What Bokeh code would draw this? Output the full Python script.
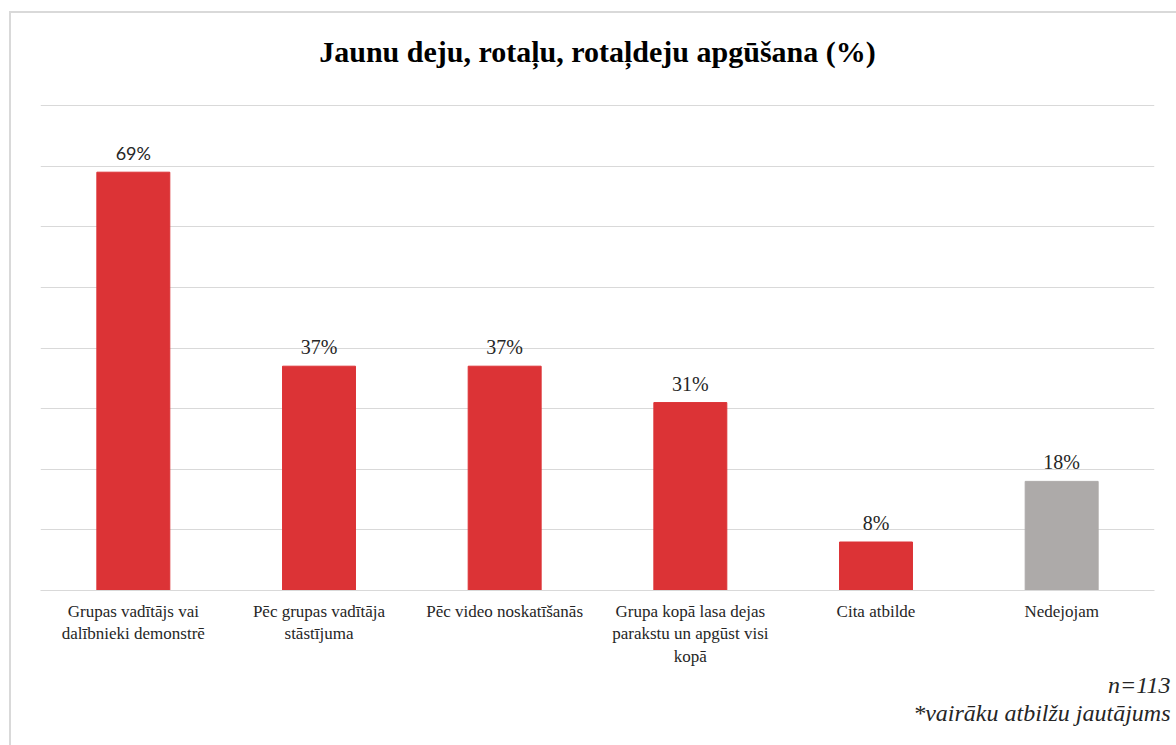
from bokeh.plotting import figure
from bokeh.models import ColumnDataSource, LabelSet, Title, FixedTicker, InlineStyleSheet
from bokeh.embed import file_html
from bokeh.resources import INLINE

categories = [
    "Grupas vadītājs vai\ndalībnieki demonstrē",
    "Pēc grupas vadītāja\nstāstījuma",
    "Pēc video noskatīšanās",
    "Grupa kopā lasa dejas\nparakstu un apgūst visi\nkopā",
    "Cita atbilde",
    "Nedejojam",
]
values = [69, 37, 37, 31, 8, 18]
value_labels = ["69%", "37%", "37%", "31%", "8%", "18%"]
grid_ticks = [10, 20, 30, 40, 50, 60, 70, 80]

SERIF = "'Liberation Serif', 'Times New Roman', serif"
RED = "#DC3336"
GRAY = "#ADAAA9"
colors = [RED, RED, RED, RED, RED, GRAY]
label_fonts = ["Lato", SERIF, SERIF, SERIF, SERIF, SERIF]
label_sizes = ["18px", "20px", "20px", "20px", "20px", "20px"]

src = ColumnDataSource(dict(cat=categories, val=values, lab=value_labels,
                            color=colors, font=label_fonts, size=label_sizes))

border_css = InlineStyleSheet(css="""
:host { position: relative; }
:host::after {
  content: "";
  position: absolute;
  left: 9px; top: 11px;
  width: 1170px; height: 740px;
  border-left: 2px solid #D9D9D9;
  border-top: 2px solid #D9D9D9;
  pointer-events: none;
  box-sizing: border-box;
}
""")

p = figure(x_range=categories, y_range=(0, 80.33), width=1176, height=745,
           output_backend="svg", toolbar_location=None,
           min_border_left=40, min_border_right=22,
           min_border_top=103, min_border_bottom=155)
p.stylesheets = [border_css]

p.vbar(x="cat", top="val", width=0.393, color="color", source=src)

labels = LabelSet(x="cat", y="val", text="lab", source=src, y_offset=12,
                  text_align="center", text_baseline="alphabetic",
                  text_font="font", text_font_size="size", text_color="#262626")
p.add_layout(labels)

p.yaxis.visible = False
p.ygrid.ticker = FixedTicker(ticks=grid_ticks)
p.ygrid.grid_line_color = "#D9D9D9"
p.ygrid.grid_line_width = 1
p.xgrid.grid_line_color = None
p.outline_line_color = None

p.xaxis.axis_line_color = "#D9D9D9"
p.xaxis.axis_line_width = 1
p.xaxis.major_tick_line_color = None
p.xaxis.minor_tick_line_color = None
p.xaxis.major_label_text_font = SERIF
p.xaxis.major_label_text_font_size = "17px"
p.xaxis.major_label_text_color = "#262626"
p.xaxis.major_label_standoff = 5

p.title.text = "Jaunu deju, rotaļu, rotaļdeju apgūšana (%)"
p.title.align = "center"
p.title.vertical_align = "top"
p.title.text_font = SERIF
p.title.text_font_size = "30px"
p.title.text_font_style = "bold"
p.title.text_color = "#000000"
p.title.standoff = 67

note1 = Title(text="n=113", align="right", offset=-16, standoff=0,
              text_font=SERIF, text_font_size="24px",
              text_font_style="italic", text_color="#262626")
note2 = Title(text="*vairāku atbilžu jautājums", align="right", offset=-16, standoff=0,
              text_font=SERIF, text_font_size="24px",
              text_font_style="italic", text_color="#262626")
p.add_layout(note1, "below")
p.add_layout(note2, "below")

open("out.html", "w").write(file_html(p, INLINE))
